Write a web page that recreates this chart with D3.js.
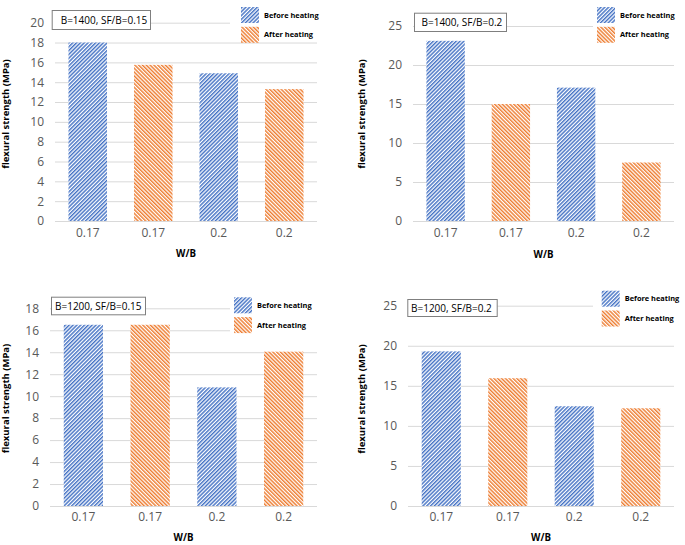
<!DOCTYPE html>
<html><head><meta charset="utf-8">
<script src="https://cdn.jsdelivr.net/npm/d3@7"></script>
<style>body{margin:0;background:#fff}svg{display:block}</style>
</head><body>
<script>
// ---- data ----
const categories = ["0.17", "0.17", "0.2", "0.2"];
const barSeries = ["Before heating", "After heating", "Before heating", "After heating"];
const legendLabels = ["Before heating", "After heating"];
const panelTitles = ["B=1400, SF/B=0.15", "B=1400, SF/B=0.2", "B=1200, SF/B=0.15", "B=1200, SF/B=0.2"];
const values1 = [18.0, 15.75, 14.9, 13.3];
const values2 = [23.1, 15.0, 17.1, 7.5];
const values3 = [16.5, 16.5, 10.8, 14.05];
const values4 = [19.3, 15.95, 12.45, 12.2];
const yMaxes = [20, 25, 18, 25];
const yTickSteps = [2, 5, 2, 5];
const yTitle = "flexural strength (MPa)";
const xTitle = "W/B";

// ---- layout ----
const layouts = [
  {x0: 55, x1: 317, y0: 221, yTop: 22.7, box: [51.7, 10, 98.3, 19, 9], leg: [241, 7, 230, 0, 110, 42], yt: [6, 114], xl: 240, xt: 257},
  {x0: 413, x1: 674, y0: 221, yTop: 26, box: [414, 12.7, 92, 18.3, 7.5], leg: [597, 7, 593, 0, 92, 42], yt: [362, 114], xl: 240, xt: 258},
  {x0: 50, x1: 317, y0: 506, yTop: 308.3, box: [51, 296.7, 94, 17.6, 4], leg: [234, 297.3, 230, 285, 110, 50], yt: [6, 398.5], xl: 524, xt: 541},
  {x0: 408, x1: 674, y0: 506, yTop: 305.7, box: [407.3, 299, 89.4, 17, 3.7], leg: [601.7, 290.7, 593, 280, 92, 50], yt: [362, 399], xl: 524, xt: 541}
];
const allValues = [values1, values2, values3, values4];
const colors = {"Before heating": "#4472C4", "After heating": "#ED7D31"};
const patId = {"Before heating": "patBefore", "After heating": "patAfter"};

const svg = d3.select("body").append("svg").attr("width", 685).attr("height", 545);
const defs = svg.append("defs");
function makePattern(id, color, angle) {
  const p = defs.append("pattern").attr("id", id).attr("patternUnits", "userSpaceOnUse")
    .attr("width", 2.7).attr("height", 2.7).attr("patternTransform", `rotate(${angle})`);
  p.append("rect").attr("width", 2.7).attr("height", 2.7).attr("fill", "#ffffff");
  p.append("rect").attr("width", 1.45).attr("height", 2.7).attr("fill", color);
}
makePattern("patBefore", colors["Before heating"], 45);
makePattern("patAfter", colors["After heating"], -45);

const font = "'Open Sans', 'DejaVu Sans', sans-serif";

allValues.forEach((vals, i) => {
  const L = layouts[i];
  const g = svg.append("g");
  const x = d3.scaleBand().domain(d3.range(categories.length)).range([L.x0, L.x1])
    .paddingInner(0.412).paddingOuter(0.206);
  const y = d3.scaleLinear().domain([0, yMaxes[i]]).range([L.y0, L.yTop]);
  const ticks = d3.range(0, yMaxes[i] + 0.001, yTickSteps[i]);

  // gridlines
  g.append("g").selectAll("line").data(ticks).join("line")
    .attr("x1", L.x0).attr("x2", L.x1)
    .attr("y1", d => y(d) + 0.5).attr("y2", d => y(d) + 0.5)
    .attr("stroke", "#d9d9d9").attr("stroke-width", 1);

  // y axis labels
  const ya = g.append("g").attr("transform", `translate(${L.x0 - 11},0)`)
    .call(d3.axisLeft(y).tickValues(ticks).tickSize(0).tickPadding(0).tickFormat(d3.format("d")));
  ya.select(".domain").remove();
  ya.selectAll("text").attr("font-family", font).attr("font-size", 12).attr("fill", "#595959");

  // bars
  g.append("g").selectAll("rect").data(vals).join("rect")
    .attr("x", (d, j) => x(j)).attr("width", x.bandwidth())
    .attr("y", d => y(d)).attr("height", d => y(0) - y(d))
    .attr("fill", (d, j) => `url(#${patId[barSeries[j]]})`);

  // x axis labels
  const xa = g.append("g").attr("transform", `translate(0,${L.xl - 12})`)
    .call(d3.axisBottom(x).tickSize(0).tickPadding(0).tickFormat(j => categories[j]));
  xa.select(".domain").remove();
  xa.selectAll("text").attr("font-family", font).attr("font-size", 12).attr("fill", "#595959")
    .attr("dy", "0.75em");

  // axis titles
  g.append("text").attr("transform", `translate(${L.yt[0]},${L.yt[1]}) rotate(-90)`)
    .attr("text-anchor", "middle").attr("dy", "0.35em")
    .attr("font-family", font).attr("font-weight", "bold").attr("font-size", 9.5).attr("fill", "#000")
    .text(yTitle);
  g.append("text").attr("x", (L.x0 + L.x1) / 2).attr("y", L.xt)
    .attr("text-anchor", "middle").attr("font-family", font).attr("font-weight", "bold")
    .attr("font-size", 9.7).attr("fill", "#000").text(xTitle);

  // legend
  const lg = g.append("g");
  lg.append("rect").attr("x", L.leg[2]).attr("y", L.leg[3]).attr("width", L.leg[4]).attr("height", L.leg[5]).attr("fill", "#fff");
  legendLabels.forEach((s, k) => {
    const yy = L.leg[1] + k * 19.8;
    lg.append("rect").attr("x", L.leg[0]).attr("y", yy).attr("width", 18).attr("height", 16)
      .attr("fill", `url(#${patId[s]})`);
    lg.append("text").attr("x", L.leg[0] + 23).attr("y", yy + 8).attr("dy", "0.35em")
      .attr("font-family", font).attr("font-weight", "bold").attr("font-size", 7.4).attr("fill", "#000").text(s);
  });

  // title box
  const b = L.box;
  g.append("rect").attr("x", b[0] + 0.5).attr("y", b[1] + 0.5).attr("width", b[2]).attr("height", b[3])
    .attr("fill", "#fff").attr("stroke", "#7f7f7f").attr("stroke-width", 1);
  g.append("text").attr("x", b[0] + b[4]).attr("y", b[1] + b[3] / 2 + 1).attr("dy", "0.35em")
    .attr("font-family", font).attr("font-size", 10).attr("fill", "#000").text(panelTitles[i]);
});
</script>
</body></html>
